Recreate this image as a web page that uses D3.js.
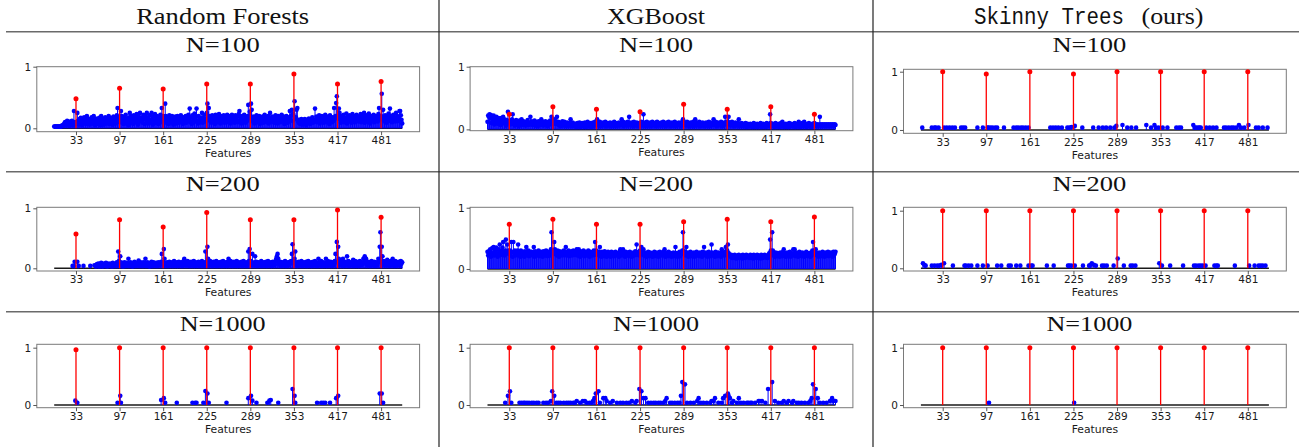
<!DOCTYPE html>
<html><head><meta charset="utf-8">
<script src="https://cdn.jsdelivr.net/npm/d3@7"></script>
<style>
html,body{margin:0;padding:0;background:#fff;}
svg{display:block;}
</style></head><body>
<svg id="chart" width="1299" height="447"></svg>
<script>
// ---------------- data ----------------
const methods = ["Random Forests", "XGBoost", "Skinny Trees"];
const methodSuffix = "(ours)";
const sampleSizes = ["N=100", "N=200", "N=1000"];
const xTickValues = [33, 97, 161, 225, 289, 353, 417, 481];
const trueFeatures = [33, 97, 161, 225, 289, 353, 417, 481];
const yTickValues = [0, 1];
const featureFirst = 1, featureLast = 512;

// importances of the 8 true features (red stems)
const rf100True  = [0.48, 0.65, 0.64, 0.72, 0.72, 0.88, 0.72, 0.76];
const xgb100True = [0.24, 0.36, 0.32, 0.28, 0.40, 0.32, 0.36, 0.24];
const st100True  = [1.0, 0.96, 1.0, 0.96, 1.0, 1.0, 1.0, 1.0];
const rf200True  = [0.57, 0.81, 0.69, 0.93, 0.81, 0.81, 0.97, 0.85];
const xgb200True = [0.73, 0.81, 0.73, 0.73, 0.77, 0.81, 0.77, 0.85];
const st200True  = [1.0, 1.0, 1.0, 1.0, 1.0, 1.0, 1.0, 1.0];
const rf1000True = [0.965, 1.0, 1.0, 1.0, 1.0, 1.0, 1.0, 1.0];
const xgb1000True= [1.0, 1.0, 1.0, 1.0, 1.0, 1.0, 1.0, 1.0];
const st1000True = [1.0, 1.0, 1.0, 1.0, 1.0, 1.0, 1.0, 1.0];

// dense panels: importance of features 1..512 (0 = not shown)
const rf100Noise = [
.03,.03,.03,.03,.03,.03,.03,.03,.03,.03,.03,.04,.05,.04,.06,.08,.1,.05,.09,.12,.07,.1,.04,.11,.08,.06,.12,.09,.05,.28,.1,.07,
.1,.08,.25,.12,.06,.15,.09,.17,.11,.05,.14,.08,.18,.1,.13,.07,.2,.16,.09,.12,.06,.15,.11,.18,.08,.13,.2,.1,.05,.16,.12,.09,
.14,.07,.17,.11,.05,.2,.13,.09,.16,.06,.12,.18,.1,.08,.15,.11,.2,.07,.13,.17,.09,.12,.06,.19,.14,.1,.08,.16,.21,.33,.12,.18,
.1,.15,.28,.2,.09,.14,.07,.19,.12,.22,.08,.16,.11,.05,.18,.25,.13,.09,.2,.15,.07,.21,.12,.17,.1,.23,.14,.06,.19,.11,.25,.16,
.12,.18,.09,.22,.15,.07,.2,.13,.25,.1,.17,.08,.21,.14,.11,.25,.16,.06,.19,.12,.23,.09,.15,.2,.11,.07,.18,.13,.22,.1,.33,.15,
.2,.12,.16,.4,.2,.09,.14,.18,.07,.21,.12,.16,.1,.2,.13,.06,.17,.11,.19,.08,.15,.2,.12,.09,.17,.14,.21,.1,.16,.07,.18,.12,
.15,.2,.09,.17,.12,.22,.14,.32,.1,.18,.07,.21,.13,.16,.24,.11,.19,.32,.12,.08,.2,.15,.1,.17,.13,.25,.09,.18,.14,.22,.11,.16,
.25,.4,.14,.33,.2,.12,.17,.09,.21,.15,.11,.19,.07,.22,.13,.18,.1,.16,.23,.12,.08,.2,.14,.17,.11,.21,.09,.15,.19,.13,.22,.1,
.17,.12,.2,.08,.15,.22,.11,.18,.14,.09,.21,.16,.12,.19,.1,.23,.28,.13,.17,.08,.2,.14,.11,.22,.15,.09,.18,.12,.2,.38,.16,.27,
.2,.4,.3,.15,.11,.19,.08,.17,.13,.21,.1,.16,.12,.2,.07,.18,.14,.11,.19,.09,.15,.22,.12,.17,.1,.14,.2,.08,.16,.25,.13,.18,
.11,.19,.14,.09,.17,.21,.12,.15,.08,.2,.13,.18,.1,.16,.22,.11,.14,.19,.07,.17,.12,.2,.15,.09,.18,.13,.28,.16,.21,.3,.12,.24,
.2,.44,.15,.18,.3,.33,.12,.09,.14,.07,.11,.15,.06,.13,.1,.08,.15,.12,.05,.14,.09,.13,.16,.1,.07,.15,.12,.18,.09,.14,.11,.32,
.14,.19,.1,.17,.12,.21,.08,.16,.13,.2,.11,.18,.09,.15,.22,.12,.17,.1,.19,.14,.07,.21,.13,.16,.1,.18,.12,.33,.15,.2,.41,.52,
.2,.18,.32,.25,.14,.09,.2,.16,.12,.22,.1,.17,.13,.24,.08,.19,.15,.11,.21,.14,.18,.09,.23,.12,.16,.2,.1,.15,.22,.13,.17,.11,
.19,.14,.23,.1,.16,.2,.12,.25,.09,.18,.14,.21,.11,.17,.24,.13,.08,.2,.15,.19,.12,.22,.1,.16,.2,.14,.18,.11,.23,.33,.15,.2,
.2,.56,.14,.3,.18,.11,.21,.15,.09,.19,.13,.24,.17,.32,.12,.2,.1,.16,.22,.14,.18,.11,.25,.15,.2,.12,.17,.28,.28,.21,.14,.08
];

const xgb100Noise = [
.12,.22,.2,.24,.18,.23,.1,.2,.15,.22,.08,.19,.13,.2,.16,.09,.18,.12,.15,.07,.18,.11,.14,.2,.1,.16,.12,.06,.15,.1,.28,.13,
.1,.14,.08,.12,.16,.24,.09,.13,.06,.11,.15,.08,.12,.1,.05,.14,.09,.12,.16,.07,.11,.13,.08,.1,.06,.12,.09,.15,.07,.11,.08,.2,
.1,.13,.07,.11,.08,.14,.06,.12,.09,.1,.05,.13,.08,.11,.07,.16,.09,.12,.06,.1,.08,.13,.07,.11,.05,.12,.09,.1,.14,.08,.2,.12,
.1,.12,.16,.09,.13,.11,.2,.08,.12,.07,.1,.05,.11,.08,.13,.06,.09,.12,.07,.1,.05,.11,.08,.09,.06,.1,.16,.08,.05,.11,.07,.09,
.06,.09,.04,.08,.1,.05,.07,.11,.04,.08,.06,.1,.05,.09,.07,.11,.04,.08,.06,.12,.05,.09,.07,.1,.04,.08,.06,.11,.05,.09,.12,.07,
.08,.16,.1,.06,.09,.12,.05,.08,.1,.06,.11,.07,.09,.12,.05,.08,.1,.06,.09,.07,.11,.05,.08,.1,.06,.09,.12,.07,.05,.1,.08,.06,
.09,.11,.06,.1,.07,.16,.08,.12,.05,.09,.11,.07,.1,.06,.12,.08,.2,.09,.06,.11,.07,.1,.05,.12,.08,.09,.06,.11,.07,.1,.05,.08,
.1,.09,.12,.06,.1,.24,.08,.11,.05,.09,.12,.07,.1,.06,.08,.11,.05,.09,.12,.07,.1,.06,.08,.11,.05,.12,.09,.07,.1,.06,.08,.11,
.06,.09,.12,.07,.1,.05,.08,.11,.06,.09,.12,.07,.1,.05,.08,.11,.06,.09,.07,.12,.05,.1,.08,.06,.09,.11,.07,.1,.05,.08,.12,.16,
.1,.08,.11,.06,.09,.12,.07,.1,.05,.08,.11,.06,.09,.07,.12,.05,.1,.16,.08,.06,.11,.07,.09,.12,.05,.08,.1,.06,.11,.07,.09,.05,
.08,.11,.06,.1,.07,.12,.05,.09,.11,.06,.08,.1,.16,.07,.09,.12,.05,.08,.11,.06,.1,.07,.09,.12,.05,.08,.1,.06,.11,.2,.09,.12,
.1,.12,.2,.08,.11,.06,.09,.12,.07,.1,.05,.08,.11,.06,.09,.07,.1,.16,.05,.08,.06,.1,.07,.09,.05,.08,.06,.1,.04,.07,.09,.05,
.07,.05,.09,.06,.08,.04,.07,.1,.05,.08,.06,.04,.09,.07,.05,.08,.06,.1,.04,.07,.05,.09,.06,.08,.04,.07,.1,.05,.08,.06,.09,.24,
.1,.07,.05,.09,.06,.08,.04,.1,.07,.05,.08,.06,.09,.04,.07,.1,.05,.12,.06,.08,.04,.07,.09,.05,.06,.08,.04,.1,.07,.05,.09,.06,
.08,.05,.07,.1,.04,.08,.06,.09,.05,.12,.07,.04,.08,.06,.1,.05,.07,.12,.06,.09,.04,.08,.05,.07,.1,.06,.08,.04,.07,.09,.05,.08,
.1,.06,.08,.07,.05,.08,.07,.06,.2,.08,.07,.05,.08,.07,.06,.08,.07,.05,.08,.06,.07,.08,.05,.07,.08,.06,.07,.08,.05,.07,.08,.07
];

const rf200Noise = [
0,0,0,0,0,0,0,0,0,0,0,0,0,0,0,0,0,0,0,0,0,0,0,0,0,0,0,.04,0,.04,.11,0,
0,0,.11,0,.04,0,0,0,0,0,0,.04,0,0,0,0,0,0,0,0,0,.04,0,0,0,0,0,.05,0,.03,.06,.07,
.05,.08,.03,.07,.04,.09,.06,.03,.08,.05,.07,.04,.09,.06,.03,.08,.05,.07,.04,.08,.06,.03,.09,.05,.07,.04,.08,.06,.1,.05,.28,.12,
.06,.2,.1,.05,.08,.03,.07,.1,.04,.06,.09,.05,.08,.16,.04,.07,.1,.05,.08,.03,.09,.06,.11,.04,.07,.05,.09,.06,.13,.04,.08,.1,
.05,.08,.04,.1,.06,.09,.16,.04,.07,.1,.05,.08,.03,.09,.06,.11,.04,.07,.1,.05,.08,.06,.09,.04,.07,.1,.05,.08,.06,.11,.24,.07,
.1,.32,.16,.05,.09,.06,.1,.04,.08,.11,.05,.09,.06,.1,.04,.08,.12,.05,.09,.06,.1,.04,.08,.11,.05,.09,.06,.1,.04,.08,.12,.16,
.06,.1,.05,.09,.12,.06,.1,.04,.08,.11,.05,.09,.06,.12,.04,.08,.1,.05,.09,.06,.11,.04,.08,.1,.05,.12,.06,.09,.04,.1,.28,.08,
.1,.36,.16,.05,.09,.12,.06,.1,.04,.08,.11,.05,.09,.06,.12,.04,.08,.1,.05,.09,.06,.11,.04,.08,.12,.05,.09,.06,.1,.04,.08,.11,
.16,.05,.09,.12,.06,.1,.04,.08,.11,.05,.09,.06,.12,.04,.08,.1,.05,.09,.06,.11,.04,.08,.12,.05,.09,.06,.1,.04,.08,.28,.12,.32,
.1,.12,.06,.24,.09,.05,.1,.2,.06,.11,.04,.08,.1,.05,.09,.06,.12,.04,.08,.1,.05,.09,.06,.11,.04,.08,.12,.05,.09,.06,.1,.04,
.08,.11,.05,.09,.06,.12,.16,.2,.24,.16,.09,.06,.11,.04,.08,.1,.05,.09,.06,.12,.04,.08,.1,.05,.09,.06,.11,.08,.12,.24,.4,.1,
.1,.16,.28,.06,.1,.04,.08,.11,.05,.09,.06,.12,.04,.08,.1,.05,.09,.06,.11,.04,.08,.12,.05,.09,.06,.1,.04,.08,.11,.05,.09,.12,
.06,.1,.04,.08,.16,.05,.09,.06,.12,.04,.08,.1,.05,.09,.06,.16,.04,.08,.12,.05,.09,.06,.11,.04,.08,.1,.05,.09,.12,.24,.1,.44,
.1,.36,.16,.05,.09,.12,.06,.1,.16,.04,.08,.11,.05,.09,.2,.06,.12,.04,.08,.1,.05,.09,.06,.14,.04,.08,.12,.05,.09,.06,.11,.04,
.08,.12,.05,.09,.06,.1,.16,.08,.2,.12,.16,.09,.05,.11,.06,.1,.04,.08,.12,.05,.09,.06,.11,.04,.08,.1,.05,.09,.16,.12,.36,.6,
.1,.36,.2,.06,.12,.08,.1,.05,.09,.14,.06,.11,.04,.08,.12,.05,.09,.16,.06,.1,.04,.12,.08,.05,.1,.06,.11,.09,.05,.12,.08,.1
];

const xgb200Noise = [
.28,.22,.25,.3,.32,.2,.26,.34,.24,.36,.22,.28,.3,.35,.25,.2,.32,.27,.4,.23,.3,.26,.35,.44,.28,.22,.3,.48,.25,.4,.27,.3,
.25,.3,.22,.44,.28,.2,.44,.26,.3,.22,.28,.24,.3,.4,.23,.27,.2,.3,.25,.22,.28,.24,.2,.29,.26,.36,.22,.27,.3,.21,.25,.28,
.24,.28,.22,.26,.36,.2,.29,.25,.22,.28,.24,.3,.21,.26,.28,.23,.27,.2,.29,.24,.26,.22,.3,.25,.21,.28,.24,.27,.22,.32,.6,.28,
.3,.26,.44,.32,.24,.28,.22,.3,.26,.2,.29,.25,.23,.28,.22,.27,.3,.24,.26,.36,.22,.28,.25,.3,.21,.27,.24,.29,.22,.26,.3,.25,
.23,.28,.26,.32,.22,.27,.32,.25,.2,.29,.24,.27,.22,.3,.25,.21,.28,.24,.26,.22,.3,.25,.2,.28,.24,.27,.22,.26,.3,.23,.44,.28,
.3,.27,.24,.28,.22,.36,.25,.2,.28,.24,.26,.21,.29,.23,.27,.2,.25,.28,.22,.26,.24,.2,.28,.23,.25,.27,.21,.24,.28,.22,.26,.23,
.25,.2,.28,.32,.24,.22,.27,.32,.23,.26,.2,.28,.24,.22,.27,.25,.21,.28,.23,.26,.2,.24,.27,.22,.25,.29,.23,.4,.26,.24,.28,.22,
.3,.26,.36,.24,.28,.32,.22,.27,.24,.2,.26,.23,.28,.21,.25,.27,.22,.24,.2,.26,.23,.28,.21,.25,.22,.27,.24,.2,.26,.28,.23,.25,
.22,.26,.28,.24,.32,.2,.27,.23,.25,.21,.28,.24,.22,.26,.2,.25,.23,.27,.21,.24,.36,.22,.26,.2,.25,.23,.28,.21,.24,.26,.3,.6,
.3,.26,.28,.22,.36,.24,.27,.2,.25,.23,.28,.21,.26,.24,.22,.27,.2,.25,.23,.28,.22,.26,.24,.21,.27,.23,.25,.2,.28,.24,.36,.26,
.22,.27,.24,.2,.26,.28,.23,.25,.21,.4,.27,.24,.22,.26,.2,.28,.23,.25,.21,.27,.24,.22,.26,.2,.32,.25,.23,.27,.22,.28,.36,.3,
.3,.4,.26,.24,.22,.2,.23,.18,.22,.21,.19,.23,.2,.17,.22,.21,.18,.23,.2,.22,.19,.21,.17,.23,.2,.22,.18,.21,.23,.19,.22,.2,
.21,.18,.23,.2,.22,.19,.17,.23,.21,.2,.22,.18,.23,.21,.19,.22,.2,.17,.23,.21,.18,.22,.2,.23,.19,.21,.22,.18,.2,.24,.26,.48,
.3,.26,.6,.3,.22,.25,.2,.27,.23,.21,.26,.22,.24,.2,.27,.23,.25,.21,.28,.32,.22,.26,.2,.24,.27,.21,.25,.23,.28,.2,.26,.24,
.22,.32,.25,.32,.21,.27,.23,.26,.2,.24,.28,.22,.25,.21,.27,.23,.26,.2,.24,.22,.28,.25,.21,.26,.23,.24,.2,.27,.22,.3,.44,.26,
.3,.24,.32,.26,.22,.25,.2,.27,.23,.26,.21,.24,.28,.22,.25,.2,.27,.23,.26,.22,.28,.21,.25,.24,.27,.22,.26,.2,.28,.23,.25,.28
];

// sparse panels: [feature, importance]
const st100Noise = [
[3,.04],[17,.04],[21,.04],[23,.04],[27,.04],[35,.04],[39,.04],[43,.04],[47,.04],[51,.04],
[60,.04],[63,.04],[66,.04],[84,.04],[92,.04],[99,.04],[100,.04],[103,.04],[106,.04],[110,.04],
[113,.04],[123,.04],[137,.04],[141,.04],[144,.04],[148,.04],[151,.04],[155,.04],[159,.04],[191,.04],
[195,.04],[199,.04],[203,.04],[208,.04],[216,.04],[219,.04],[222,.05],[227,.07],[238,.04],[254,.04],
[262,.04],[268,.04],[273,.04],[279,.04],[285,.04],[288,.07],[297,.085],[304,.04],[310,.04],[317,.04],
[332,.085],[339,.04],[344,.085],[346,.04],[350,.04],[356,.04],[363,.04],[376,.04],[380,.04],[383,.04],
[401,.085],[403,.04],[405,.04],[408,.04],[410,.04],[412,.04],[420,.04],[425,.04],[430,.04],[435,.04],
[446,.04],[449,.04],[453,.04],[457,.04],[460,.04],[464,.04],[468,.085],[471,.04],[476,.04],[482,.085],
[493,.04],[497,.04],[503,.04],[510,.04]
];
const st200Noise = [
[4,.087],[6,.06],[8,.046],[17,.046],[21,.046],[25,.046],[28,.046],[31,.06],[35,.087],[48,.046],
[65,.046],[67,.046],[71,.046],[75,.046],[84,.046],[92,.046],[99,.046],[113,.046],[119,.046],[130,.046],
[133,.046],[141,.046],[147,.046],[159,.046],[163,.046],[165,.046],[186,.046],[196,.046],[217,.046],[219,.046],
[222,.046],[227,.046],[239,.046],[248,.046],[250,.06],[252,.087],[255,.06],[258,.046],[267,.046],[270,.046],
[274,.046],[284,.046],[290,.17],[299,.046],[309,.046],[312,.046],[316,.046],[351,.087],[355,.046],[367,.046],
[386,.046],[402,.046],[405,.046],[409,.046],[412,.046],[415,.046],[419,.046],[432,.046],[435,.046],[437,.046],
[462,.046],[483,.046],[491,.046],[497,.046],[500,.046],[503,.046],[507,.046]
];
const rf1000Noise = [
[32,.076],[35,.04],[94,.04],[98,.16],[99,.04],[158,.087],[162,.12],[164,.04],[181,.04],[204,.04],
[208,.04],[210,.04],[220,.04],[223,.245],[226,.2],[228,.04],[254,.04],[286,.12],[290,.16],[292,.076],
[298,.04],[314,.04],[317,.076],[319,.087],[330,.04],[351,.28],[354,.16],[355,.04],[387,.04],[393,.04],
[396,.04],[399,.04],[406,.04],[415,.12],[418,.16],[479,.2],[482,.2],[484,.04]
];
const xgb1000Noise = [
[27,.04],[31,.16],[34,.24],[36,.04],[48,.04],[51,.04],[54,.04],[56,.04],[59,.04],[62,.04],
[66,.04],[69,.04],[73,.04],[76,.04],[83,.04],[87,.04],[90,.04],[94,.07],[96,.24],[99,.16],
[102,.04],[105,.04],[108,.04],[113,.04],[117,.04],[120,.04],[123,.04],[127,.04],[129,.04],[132,.07],
[137,.04],[141,.07],[144,.07],[147,.04],[151,.04],[154,.04],[156,.07],[158,.12],[160,.2],[164,.24],
[166,.04],[171,.12],[174,.12],[176,.07],[181,.04],[185,.07],[191,.04],[196,.04],[200,.04],[205,.04],
[209,.04],[213,.07],[218,.04],[220,.07],[224,.28],[227,.24],[230,.12],[233,.12],[237,.04],[241,.04],
[245,.04],[248,.04],[252,.04],[255,.04],[259,.04],[262,.07],[264,.12],[269,.04],[272,.04],[276,.04],
[280,.04],[283,.04],[285,.16],[287,.4],[291,.36],[294,.04],[299,.04],[304,.04],[309,.07],[311,.12],
[314,.04],[318,.04],[323,.04],[328,.04],[330,.07],[333,.07],[335,.12],[340,.04],[345,.04],[347,.12],
[350,.16],[354,.2],[355,.16],[357,.12],[360,.04],[362,.07],[367,.04],[370,.12],[373,.04],[377,.04],
[382,.04],[384,.04],[387,.04],[389,.04],[394,.04],[399,.07],[401,.07],[404,.07],[409,.04],[413,.28],
[419,.4],[423,.07],[428,.04],[433,.04],[436,.07],[440,.04],[443,.07],[448,.04],[450,.07],[455,.04],
[458,.04],[462,.04],[467,.04],[472,.04],[475,.07],[477,.12],[479,.36],[483,.28],[486,.12],[489,.04],
[494,.04],[499,.04],[504,.07],[507,.12],[509,.07],[512,.07]
];
const st1000Noise = [[101,.04],[226,.04]];

// ---------------- layout ----------------
const W = 1299, H = 447;
const colLeft = [36.8, 470.1, 903.5];
const plotW = 382.8;
const xDomain = [-24.55, 537.55];
const fontSans = "'DejaVu Sans', sans-serif";
const fontSerif = "'Liberation Serif', 'DejaVu Serif', serif";
const fontMono = "'Liberation Mono', 'DejaVu Sans Mono', monospace";

const toPairs = arr => arr.map((v, i) => [featureFirst + i, v]);

const panels = [
  {col:0,row:0,top:66.7,bottom:131.7,yDom:[-0.055,1.0],noise:toPairs(rf100Noise),signal:rf100True},
  {col:1,row:0,top:66.7,bottom:130.7,yDom:[-0.021,1.0],noise:toPairs(xgb100Noise),signal:xgb100True},
  {col:2,row:0,top:69.3,bottom:133.3,yDom:[-0.057,1.041],noise:st100Noise,signal:st100True},
  {col:0,row:1,top:207.3,bottom:271,yDom:[-0.045,1.017],noise:toPairs(rf200Noise),signal:rf200True},
  {col:1,row:1,top:207.3,bottom:271,yDom:[-0.033,1.007],noise:toPairs(xgb200Noise),signal:xgb200True},
  {col:2,row:1,top:207.3,bottom:271,yDom:[-0.047,1.059],noise:st200Noise,signal:st200True},
  {col:0,row:2,top:344.3,bottom:407.7,yDom:[-0.047,1.059],noise:rf1000Noise,signal:rf1000True},
  {col:1,row:2,top:344.3,bottom:407.7,yDom:[-0.047,1.059],noise:xgb1000Noise,signal:xgb1000True},
  {col:2,row:2,top:344.3,bottom:407.7,yDom:[-0.047,1.059],noise:st1000Noise,signal:st1000True}
];
const titleBaseline = [51.7, 191, 331];
const titleWidth = [74, 74, 86];

const svg = d3.select("#chart");
svg.append("rect").attr("width", W).attr("height", H).attr("fill", "#fff");

// table rules
const hLines = [31.7, 171.7, 311.7];
svg.selectAll("line.hrule").data(hLines).join("line").attr("class","hrule")
  .attr("x1", 6).attr("x2", W).attr("y1", d => d).attr("y2", d => d)
  .attr("stroke", "#6a6a6a").attr("stroke-width", 1.4);
const vLines = [439, 873];
svg.selectAll("line.vrule").data(vLines).join("line").attr("class","vrule")
  .attr("x1", d => d).attr("x2", d => d).attr("y1", 0).attr("y2", H)
  .attr("stroke", "#222").attr("stroke-width", 1.2);

// column headers
const headerCenter = colLeft.map(l => l + plotW / 2 - 5.5);
svg.append("text").attr("x", headerCenter[0]).attr("y", 24).attr("text-anchor","middle")
  .attr("font-family", fontSerif).attr("font-size", 24).attr("fill", "#111")
  .attr("textLength", 173).attr("lengthAdjust", "spacingAndGlyphs").text(methods[0]);
svg.append("text").attr("x", headerCenter[1]).attr("y", 24).attr("text-anchor","middle")
  .attr("font-family", fontSerif).attr("font-size", 24).attr("fill", "#111")
  .attr("textLength", 98).attr("lengthAdjust", "spacingAndGlyphs").text(methods[1]);
svg.append("text").attr("x", 974).attr("y", 24).attr("text-anchor","start")
  .attr("font-family", fontMono).attr("font-size", 23).attr("fill", "#111")
  .attr("textLength", 150).attr("lengthAdjust", "spacingAndGlyphs").text(methods[2]);
svg.append("text").attr("x", 1141.5).attr("y", 24).attr("text-anchor","start")
  .attr("font-family", fontSerif).attr("font-size", 24).attr("fill", "#111")
  .attr("textLength", 62).attr("lengthAdjust", "spacingAndGlyphs").text(methodSuffix);

panels.forEach(p => {
  const left = colLeft[p.col];
  const x = d3.scaleLinear().domain(xDomain).range([left, left + plotW]);
  const y = d3.scaleLinear().domain(p.yDom).range([p.bottom, p.top]);
  const g = svg.append("g");

  // sub-title
  g.append("text").attr("x", left + plotW / 2 - 5.5).attr("y", titleBaseline[p.row])
    .attr("text-anchor", "middle").attr("font-family", fontSerif).attr("font-size", 22)
    .attr("fill", "#111").attr("textLength", titleWidth[p.row]).attr("lengthAdjust", "spacingAndGlyphs")
    .text(sampleSizes[p.row]);

  // frame
  g.append("rect").attr("x", left).attr("y", p.top).attr("width", plotW).attr("height", p.bottom - p.top)
    .attr("fill", "none").attr("stroke", "#7a7a7a").attr("stroke-width", 1);

  // axes
  const xa = g.append("g").attr("transform", `translate(0,${p.bottom})`)
    .call(d3.axisBottom(x).tickValues(xTickValues).tickSize(3.5).tickPadding(1.5).tickFormat(d3.format("d")));
  const ya = g.append("g").attr("transform", `translate(${left},0)`)
    .call(d3.axisLeft(y).tickValues(yTickValues).tickSize(3.5).tickPadding(2).tickFormat(d3.format("d")));
  [xa, ya].forEach(a => {
    a.select(".domain").remove();
    a.selectAll(".tick line").attr("stroke", "#444").attr("stroke-width", 0.9);
    a.selectAll(".tick text").attr("font-family", fontSans).attr("font-size", 10.5).attr("fill", "#1a1a1a");
  });
  g.append("text").attr("x", left + plotW / 2).attr("y", p.bottom + 25.3).attr("text-anchor", "middle")
    .attr("font-family", fontSans).attr("font-size", 10.8).attr("fill", "#1a1a1a").text("Features");

  // stem baseline
  g.append("line").attr("x1", x(featureFirst)).attr("x2", x(featureLast))
    .attr("y1", y(0)).attr("y2", y(0)).attr("stroke", "#1a1a1a").attr("stroke-width", 1.4);

  // blue stems (other features)
  const noise = p.noise.filter(d => d[1] > 0);
  g.append("g").selectAll("line").data(noise).join("line")
    .attr("x1", d => x(d[0])).attr("x2", d => x(d[0]))
    .attr("y1", y(0)).attr("y2", d => y(d[1]))
    .attr("stroke", "#0000ff").attr("stroke-width", 1);
  g.append("g").selectAll("circle").data(noise).join("circle")
    .attr("cx", d => x(d[0])).attr("cy", d => y(d[1])).attr("r", 2.3).attr("fill", "#0000ff");

  // red stems (true features)
  const sig = trueFeatures.map((f, i) => [f, p.signal[i]]);
  g.append("g").selectAll("line").data(sig).join("line")
    .attr("x1", d => x(d[0])).attr("x2", d => x(d[0]))
    .attr("y1", y(0)).attr("y2", d => y(d[1]))
    .attr("stroke", "#ff0000").attr("stroke-width", 1.3);
  g.append("g").selectAll("circle").data(sig).join("circle")
    .attr("cx", d => x(d[0])).attr("cy", d => y(d[1])).attr("r", 2.5).attr("fill", "#ff0000");
});
</script>
</body></html>
